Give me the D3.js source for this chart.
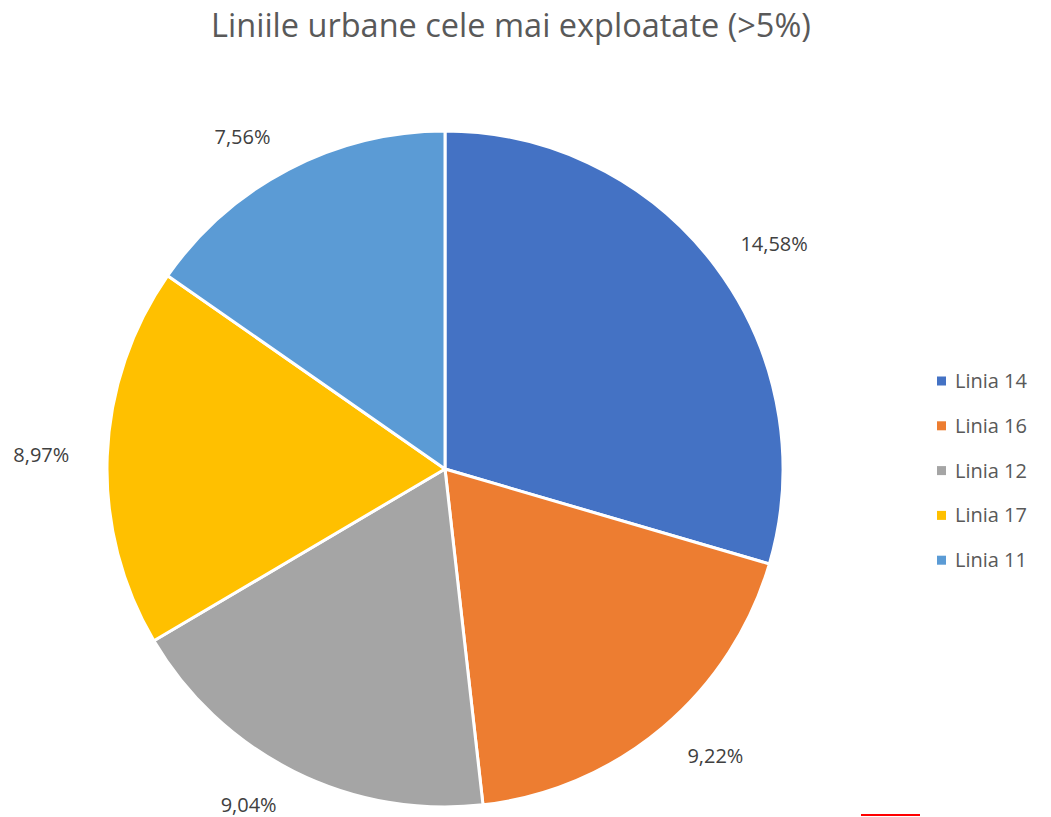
<!DOCTYPE html>
<html>
<head>
<meta charset="utf-8">
<script src="https://cdn.jsdelivr.net/npm/d3@7"></script>
<style>
  body { margin: 0; background: #fff; }
  text { font-family: "Open Sans", "Liberation Sans", sans-serif; }
</style>
</head>
<body>
<div id="chart-area"></div>
<script>
var w = 1051;
var h = 817;

// data
const categories = ["Linia 14", "Linia 16", "Linia 12", "Linia 17", "Linia 11"];
const values = [14.58, 9.22, 9.04, 8.97, 7.56];
const labels = ["14,58%", "9,22%", "9,04%", "8,97%", "7,56%"];
const colors = ["#4472C4", "#ED7D31", "#A5A5A5", "#FFC000", "#5B9BD5"];

const cx = 445, cy = 469, radius = 338;
const labelRadius = 375;
const labelPush = 29;   // horizontal push so labels sit outside the pie

var svg = d3.select("#chart-area").append("svg")
    .attr("width", w)
    .attr("height", h);

// title
svg.append("text")
    .attr("x", 511)
    .attr("y", 37)
    .attr("text-anchor", "middle")
    .attr("fill", "#595959")
    .style("font-size", "32.5px")
    .text("Liniile urbane cele mai exploatate (>5%)");

var data = categories.map((c, i) => ({ name: c, value: values[i], label: labels[i], color: colors[i] }));

var pie = d3.pie().sort(null).value(d => d.value);
var arc = d3.arc().innerRadius(0).outerRadius(radius);
var labelArc = d3.arc().innerRadius(labelRadius).outerRadius(labelRadius);

const g = svg.append("g")
    .attr("transform", `translate(${cx}, ${cy})`);

var arcs = pie(data);

g.selectAll("path")
    .data(arcs)
    .enter().append("path")
    .attr("d", arc)
    .attr("fill", d => d.data.color)
    .attr("stroke", "#ffffff")
    .attr("stroke-width", 3)
    .attr("stroke-linejoin", "round");

g.selectAll("text.lbl")
    .data(arcs)
    .enter().append("text")
    .attr("class", "lbl")
    .attr("transform", d => {
        var c = labelArc.centroid(d);
        var side = c[0] >= 0 ? 1 : -1;
        return "translate(" + (c[0] + side * labelPush) + "," + c[1] + ")";
    })
    .attr("text-anchor", "middle")
    .attr("dy", "0.35em")
    .attr("fill", "#404040")
    .style("font-size", "20px")
    .text(d => d.data.label);

// legend
var legend = svg.append("g")
    .attr("transform", "translate(937, 381)");

var items = legend.selectAll("g")
    .data(data)
    .enter().append("g")
    .attr("transform", (d, i) => "translate(0," + (i * 44.8) + ")");

items.append("rect")
    .attr("x", 0)
    .attr("y", -4.5)
    .attr("width", 9)
    .attr("height", 9)
    .attr("fill", d => d.color);

items.append("text")
    .attr("x", 18)
    .attr("dy", "0.35em")
    .attr("fill", "#595959")
    .style("font-size", "20px")
    .text(d => d.name);

// small red mark at bottom
svg.append("line")
    .attr("x1", 861).attr("x2", 920)
    .attr("y1", 815).attr("y2", 815)
    .attr("stroke", "#FF0000")
    .attr("stroke-width", 2);
</script>
</body>
</html>
